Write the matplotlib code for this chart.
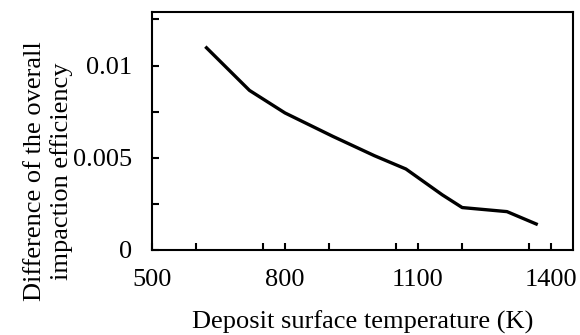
import matplotlib
matplotlib.use("Agg")
import matplotlib.pyplot as plt
from matplotlib.ticker import MultipleLocator, FixedFormatter, FixedLocator

# Deposit surface temperature (K) and difference of overall impaction efficiency
temperature = [623, 720, 800, 908, 1002, 1073, 1155, 1200, 1301, 1367]
efficiency_diff = [0.01096, 0.00865, 0.00743, 0.00616, 0.00511, 0.00439, 0.00299, 0.00230, 0.00208, 0.00141]

x_ticks = [500, 800, 1100, 1400]
x_tick_labels = ["500", "800", "1100", "1400"]
y_ticks = [0, 0.005, 0.01]
y_tick_labels = ["0", "0.005", "0.01"]

plt.rcParams["font.family"] = ["Liberation Serif", "DejaVu Serif"]
plt.rcParams["font.size"] = 19

fig = plt.figure(figsize=(5.8, 3.35), dpi=100)
ax = fig.add_axes([152 / 580, 1 - 250 / 335, (573 - 152) / 580, (250 - 12) / 335])

ax.plot(temperature, efficiency_diff, color="black", linewidth=2.4, solid_joinstyle="round")

ax.set_xlim(500, 1450)
ax.set_ylim(0, 0.0129)

ax.xaxis.set_major_locator(FixedLocator(x_ticks))
ax.xaxis.set_major_formatter(FixedFormatter(x_tick_labels))
ax.xaxis.set_minor_locator(MultipleLocator(150))
ax.yaxis.set_major_locator(FixedLocator(y_ticks))
ax.yaxis.set_major_formatter(FixedFormatter(y_tick_labels))
ax.yaxis.set_minor_locator(MultipleLocator(0.0025))

for spine in ax.spines.values():
    spine.set_linewidth(1.5)

ax.tick_params(which="both", direction="in", length=5, width=1.5,
               top=False, right=False)
ax.tick_params(axis="x", which="major", pad=14)
ax.tick_params(axis="y", which="major", pad=14)

ax.set_xlabel("Deposit surface temperature (K)")
ax.xaxis.set_label_coords(0.5, -0.255)
ax.set_ylabel("Difference of the overall\nimpaction efficiency", linespacing=1.2)
ax.yaxis.set_label_coords(-0.188, 0.33)

fig.savefig("out.png", dpi=100)
